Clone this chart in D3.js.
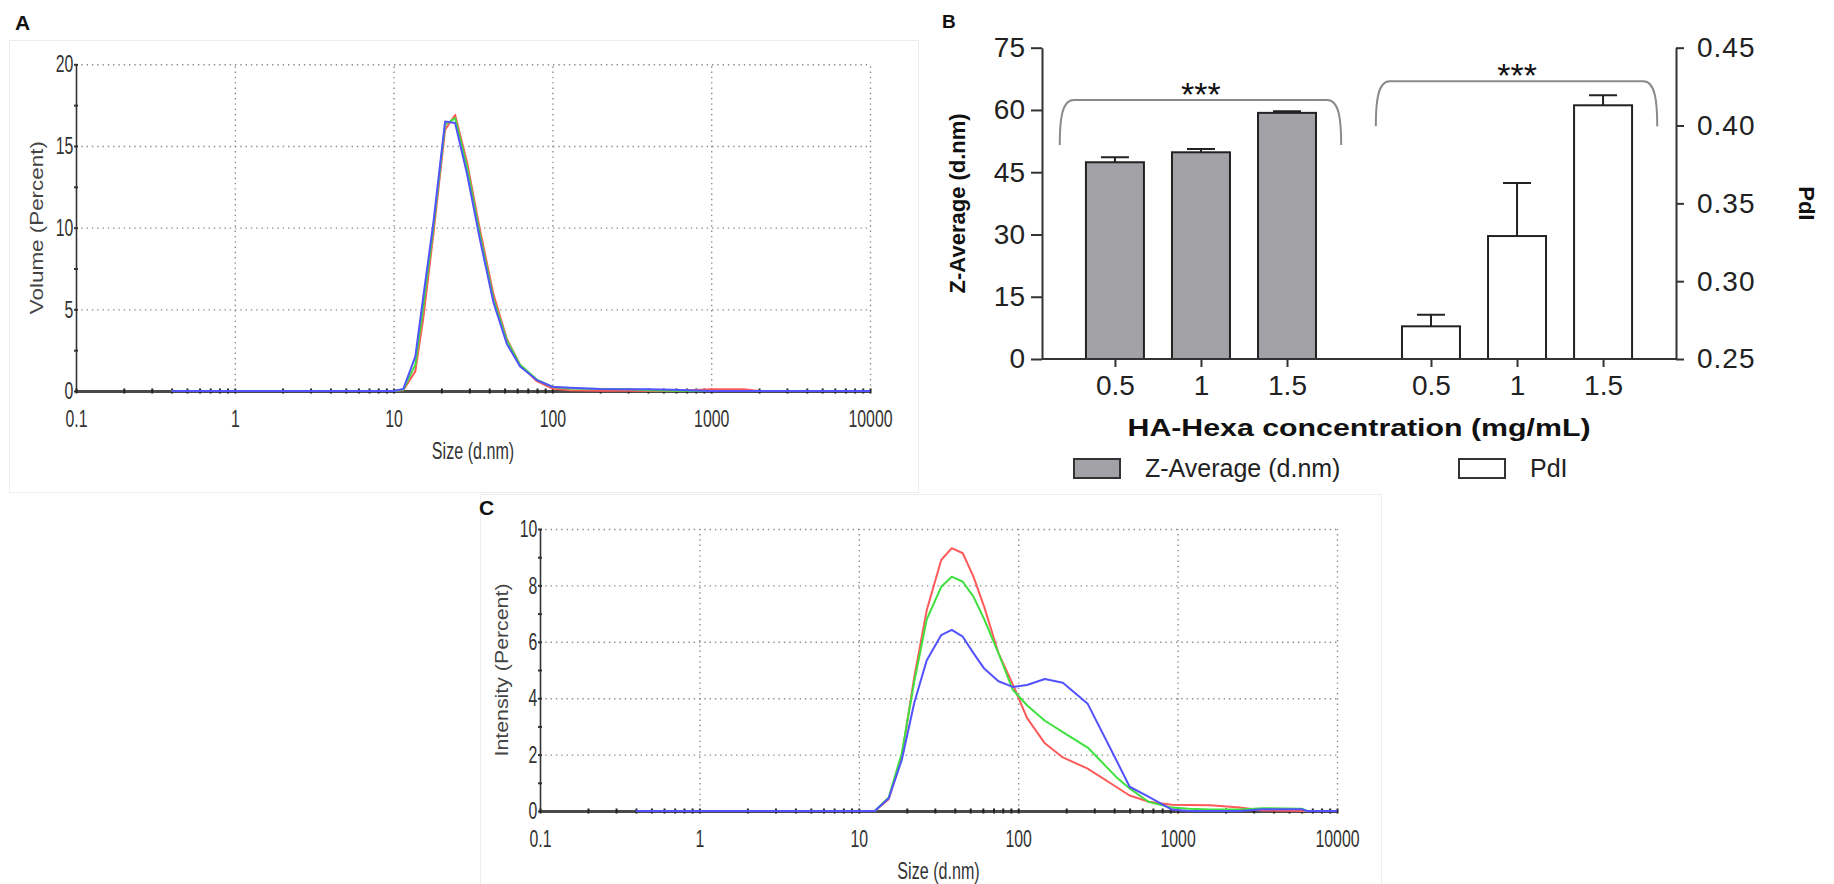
<!DOCTYPE html>
<html>
<head>
<meta charset="utf-8">
<title>HA-Hexa DLS</title>
<script src="https://d3js.org/d3.v7.min.js"></script>
<style>
  body { margin: 0; background: #fff; }
  svg { display: block; }
</style>
</head>
<body>
<svg></svg>
<script>
// ---- panel A : volume distribution ----
const sizeA = [0.4, 10, 11.5, 13.7, 15.4, 17.8, 21.1, 24.4, 29, 35.1, 42.6, 51.6, 62.6, 79.8, 100, 129, 200, 300, 400, 570, 1000, 1600, 2000, 10000]
const volRed   = [0, 0, 0.05, 1.2, 4.5, 9.6, 16.0, 16.9, 14.0, 9.8, 5.9, 3.2, 1.6, 0.6, 0.15, 0.05, 0.02, 0.02, 0, 0, 0.1, 0.1, 0, 0]
const volGreen = [0, 0, 0.08, 1.6, 5.2, 10.0, 16.3, 16.7, 13.7, 9.5, 5.6, 3.1, 1.6, 0.7, 0.25, 0.15, 0.12, 0.1, 0.05, 0.02, 0, 0, 0, 0]
const volBlue  = [0, 0, 0.12, 2.1, 5.8, 10.3, 16.5, 16.4, 13.3, 9.2, 5.4, 2.9, 1.5, 0.67, 0.26, 0.2, 0.12, 0.1, 0.1, 0.08, 0, 0, 0, 0]

// ---- panel C : intensity distribution ----
const sizeC = [0.4, 12.6, 15.4, 18.6, 22.3, 26.7, 32.9, 38.3, 44.9, 52.4, 61.2, 75.2, 92.4, 113.5, 147, 190.6, 273, 413, 500, 660, 920, 1175, 1600, 2460, 3400, 6000, 6500, 10000]
const intRed   = [0, 0, 0.42, 1.93, 4.76, 7.13, 8.9, 9.32, 9.14, 8.31, 7.24, 5.6, 4.5, 3.3, 2.4, 1.9, 1.5, 0.85, 0.55, 0.33, 0.22, 0.21, 0.2, 0.12, 0.02, 0, 0, 0]
const intGreen = [0, 0, 0.48, 2.05, 4.6, 6.8, 7.95, 8.31, 8.13, 7.6, 6.8, 5.6, 4.3, 3.75, 3.2, 2.8, 2.25, 1.2, 0.8, 0.32, 0.12, 0.08, 0.05, 0.05, 0.1, 0.08, 0, 0]
const intBlue  = [0, 0, 0.45, 1.81, 3.85, 5.35, 6.24, 6.42, 6.18, 5.6, 5.05, 4.6, 4.4, 4.47, 4.68, 4.55, 3.8, 1.8, 0.86, 0.5, 0.05, 0, 0, 0, 0.06, 0.06, 0, 0]

const decades = [0.1, 1, 10, 100, 1000, 10000]

// ---- panel B : Z-average and PdI ----
const groups = ["Z-Average (d.nm)", "PdI"]
const conc = ["0.5", "1", "1.5"]
const zAvg = [47.4, 49.8, 59.3]
const zAvgErr = [1.2, 0.8, 0.4]
const pdi = [0.271, 0.329, 0.413]
const pdiErr = [0.0075, 0.034, 0.0065]
const zTicks = [0, 15, 30, 45, 60, 75]
const pdiTicks = [0.25, 0.30, 0.35, 0.40, 0.45]
const sigText = ["***", "***"]
const sigLevel = [62.4, 66.9]   // bracket height, in Z-average units

const colRed = "#ff5a5a", colGreen = "#3fe03f", colBlue = "#5252ff"

const svg = d3.select("svg")
  .attr("width", 1834)
  .attr("height", 884)
  .style("font-family", "'Liberation Sans', Arial, sans-serif")

function distPanel(cfg) {
  const g = svg.append("g")
  const x = d3.scaleLog().domain([0.1, 10000]).range([cfg.x0, cfg.x1])
  const y = d3.scaleLinear().domain([0, cfg.yMax]).range([cfg.y0, cfg.y1])

  g.append("rect")
    .attr("x", cfg.frame[0]).attr("y", cfg.frame[1])
    .attr("width", cfg.frame[2]).attr("height", cfg.frame[3])
    .attr("fill", "none").attr("stroke", "#ededed")

  // dotted grid
  g.append("g").attr("transform", `translate(0,${cfg.y0})`)
    .call(d3.axisBottom(x).tickValues(decades.slice(1)).tickSize(-(cfg.y0 - cfg.y1)).tickFormat(""))
    .call(a => a.select(".domain").remove())
    .selectAll("line").attr("stroke", "#8c8c8c").attr("stroke-width", 1.4).attr("stroke-dasharray", "1.4,3.9")
  g.append("g").attr("transform", `translate(${cfg.x0},0)`)
    .call(d3.axisLeft(y).tickValues(cfg.yTicks.slice(1)).tickSize(-(cfg.x1 - cfg.x0)).tickFormat(""))
    .call(a => a.select(".domain").remove())
    .selectAll("line").attr("stroke", "#8c8c8c").attr("stroke-width", 1.4).attr("stroke-dasharray", "1.4,3.9")

  // y axis with small ticks
  const yAx = g.append("g").attr("transform", `translate(${cfg.x0},0)`)
    .call(d3.axisLeft(y).tickValues(cfg.yMinor).tickSizeOuter(0).tickFormat(""))
  yAx.select(".domain").attr("stroke", "#333").attr("stroke-width", 1.6)
  yAx.selectAll("line").attr("x1", 2).attr("x2", -2).attr("stroke", "#333").attr("stroke-width", 2)

  g.append("g").attr("transform", `translate(${cfg.x0},0)`)
    .call(d3.axisLeft(y).tickValues(cfg.yTicks).tickSize(0).tickPadding(4))
    .call(a => a.select(".domain").remove())
    .selectAll("text").attr("font-size", 24).attr("fill", "#333")
    .attr("font-family", "'Liberation Sans', Arial, sans-serif")
    .attr("transform", "scale(0.66,1)")

  // baseline with log minor ticks
  const minor = []
  decades.slice(0, -1).forEach(d => d3.range(1, 10).forEach(k => minor.push(d * k)))
  minor.push(10000)
  const xAx = g.append("g").attr("transform", `translate(0,${cfg.y0})`)
    .call(d3.axisBottom(x).tickValues(minor).tickSizeOuter(0).tickFormat(""))
  xAx.select(".domain").attr("stroke", "#4a4a4a").attr("stroke-width", 3)
  xAx.selectAll("line").attr("y1", -2.5).attr("y2", 2.5).attr("stroke", "#222").attr("stroke-width", 2)

  g.append("g").attr("transform", `translate(0,${cfg.y0})`)
    .call(d3.axisBottom(x).tickValues(decades).tickSize(0).tickPadding(19).tickFormat(d => String(d)))
    .call(a => a.select(".domain").remove())
    .selectAll("text").attr("font-size", 24).attr("fill", "#333")
    .attr("font-family", "'Liberation Sans', Arial, sans-serif")
    .attr("transform", "scale(0.66,1)")

  // curves
  cfg.series.forEach(s => {
    const line = d3.line().x((d, i) => x(cfg.sizes[i])).y(d => y(d))
    g.append("path").datum(s.values)
      .attr("d", line)
      .attr("fill", "none")
      .attr("stroke", s.color)
      .attr("stroke-width", 2)
      .attr("stroke-linejoin", "round")
  })

  // titles
  const cx = (cfg.x0 + cfg.x1) / 2
  g.append("text")
    .attr("transform", `translate(${cx},${cfg.y0 + 68}) scale(0.7,1)`)
    .attr("text-anchor", "middle")
    .attr("font-size", 23).attr("fill", "#333")
    .text("Size (d.nm)")
  g.append("text")
    .attr("transform", `translate(${cfg.titleX},${(cfg.y0 + cfg.y1) / 2}) rotate(-90)`)
    .attr("text-anchor", "middle")
    .attr("font-size", 18).attr("fill", "#444")
    .attr("textLength", 173).attr("lengthAdjust", "spacingAndGlyphs")
    .text(cfg.yTitle)
  g.append("text")
    .attr("x", cfg.letter[0]).attr("y", cfg.letter[1])
    .attr("font-size", 21).attr("font-weight", "bold").attr("fill", "#111")
    .text(cfg.name)
}

distPanel({
  name: "A", letter: [15, 30],
  frame: [9.5, 40.5, 909, 452],
  x0: 76, x1: 870, y0: 391, y1: 64.3,
  yMax: 20, yTicks: [0, 5, 10, 15, 20], yMinor: [0, 2.5, 5, 7.5, 10, 12.5, 15, 17.5, 20],
  titleX: 43, yTitle: "Volume (Percent)",
  sizes: sizeA,
  series: [
    { color: colRed, values: volRed },
    { color: colGreen, values: volGreen },
    { color: colBlue, values: volBlue }
  ]
})

distPanel({
  name: "C", letter: [479, 515],
  frame: [480.5, 494.5, 901, 400],
  x0: 540, x1: 1337, y0: 811, y1: 529,
  yMax: 10, yTicks: [0, 2, 4, 6, 8, 10], yMinor: d3.range(0, 11),
  titleX: 508, yTitle: "Intensity (Percent)",
  sizes: sizeC,
  series: [
    { color: colRed, values: intRed },
    { color: colGreen, values: intGreen },
    { color: colBlue, values: intBlue }
  ]
})

// ---------------- panel B ----------------
const gB = svg.append("g")
const bx0 = 1042, bx1 = 1676, by0 = 359, by1 = 47.7
const yL = d3.scaleLinear().domain([0, 75]).range([by0, by1])
const yR = d3.scaleLinear().domain([0.25, 0.45]).range([by0, by1])
const outer = d3.scaleBand().domain(groups).range([bx0, bx1]).paddingInner(0.1).paddingOuter(0.053)
const inner = d3.scaleBand().domain(conc).range([0, outer.bandwidth()]).paddingInner(0.326).paddingOuter(0.316)

const barData = []
conc.forEach((c, i) => barData.push({ g: groups[0], c, v: zAvg[i], e: zAvgErr[i], y: yL, fill: "#a2a2a6" }))
conc.forEach((c, i) => barData.push({ g: groups[1], c, v: pdi[i], e: pdiErr[i], y: yR, fill: "#fff" }))

const cxB = d => outer(d.g) + inner(d.c) + inner.bandwidth() / 2

// error bars first, bars on top
gB.selectAll(".err").data(barData).enter().append("path")
  .attr("d", d => `M${cxB(d)},${d.y(d.v)}V${d.y(d.v + d.e)}M${cxB(d) - 14},${d.y(d.v + d.e)}H${cxB(d) + 14}`)
  .attr("stroke", "#222").attr("stroke-width", 2).attr("fill", "none")

gB.selectAll(".bar").data(barData).enter().append("rect")
  .attr("x", d => outer(d.g) + inner(d.c))
  .attr("y", d => d.y(d.v))
  .attr("width", inner.bandwidth())
  .attr("height", d => by0 - d.y(d.v))
  .attr("fill", d => d.fill)
  .attr("stroke", "#222").attr("stroke-width", 2)

// axes
const fontB = "'Liberation Sans', Arial, sans-serif"
const axL = gB.append("g").attr("transform", `translate(${bx0},0)`)
  .call(d3.axisLeft(yL).tickValues(zTicks).tickSizeInner(11).tickSizeOuter(0).tickPadding(6))
axL.selectAll("text").attr("font-size", 28).attr("font-family", fontB).attr("fill", "#222")
axL.selectAll("line, path").attr("stroke", "#333").attr("stroke-width", 2)

const axR = gB.append("g").attr("transform", `translate(${bx1},0)`)
  .call(d3.axisRight(yR).tickValues(pdiTicks).tickSizeInner(8).tickSizeOuter(0).tickPadding(13).tickFormat(d3.format(".2f")))
axR.selectAll("text").attr("font-size", 28).attr("font-family", fontB).attr("fill", "#222").attr("letter-spacing", 1)
axR.selectAll("line, path").attr("stroke", "#333").attr("stroke-width", 2)

const xPos = d3.scaleOrdinal().domain(d3.range(6)).range(barData.map(cxB))
const axX = gB.append("g").attr("transform", `translate(0,${by0})`)
  .call(d3.axisBottom(xPos).tickValues(d3.range(6)).tickSizeInner(8).tickSizeOuter(0).tickPadding(8)
    .tickFormat(i => barData[i].c))
axX.select(".domain").attr("d", `M${bx0},0H${bx1}`)
axX.selectAll("text").attr("font-size", 28).attr("font-family", fontB).attr("fill", "#222")
axX.selectAll("line, path").attr("stroke", "#333").attr("stroke-width", 2)

// significance brackets
groups.forEach((grp, i) => {
  const xa = outer(grp) + 3, xb = outer(grp) + outer.bandwidth() - 4
  const yt = yL(sigLevel[i]), yb = yt + 45, r = 12
  gB.append("path")
    .attr("d", `M${xa - 2},${yb}C${xa - 2},${yt + 20} ${xa},${yt} ${xa + r},${yt}H${xb - r}C${xb},${yt} ${xb + 2},${yt + 20} ${xb + 2},${yb}`)
    .attr("fill", "none").attr("stroke", "#8a8a8a").attr("stroke-width", 2)
  gB.append("text")
    .attr("x", outer(grp) + outer.bandwidth() / 2).attr("y", yt + 6)
    .attr("text-anchor", "middle").attr("font-size", 34).attr("fill", "#111")
    .text(sigText[i])
})

// axis titles
gB.append("text")
  .attr("transform", `translate(965,${(by0 + by1) / 2}) rotate(-90)`)
  .attr("text-anchor", "middle").attr("font-size", 22).attr("font-weight", "bold").attr("fill", "#111")
  .text("Z-Average (d.nm)")
gB.append("text")
  .attr("transform", `translate(1799,${(by0 + by1) / 2}) rotate(90)`)
  .attr("text-anchor", "middle").attr("font-size", 22).attr("font-weight", "bold").attr("fill", "#111")
  .text("PdI")
gB.append("text")
  .attr("x", 1359).attr("y", 436)
  .attr("text-anchor", "middle").attr("font-size", 23).attr("font-weight", "bold").attr("fill", "#111")
  .attr("textLength", 463).attr("lengthAdjust", "spacingAndGlyphs")
  .text("HA-Hexa concentration (mg/mL)")
gB.append("text")
  .attr("x", 942).attr("y", 28)
  .attr("font-size", 19).attr("font-weight", "bold").attr("fill", "#111")
  .text("B")

// legend
const legX = [1074, 1459]
groups.forEach((grp, i) => {
  gB.append("rect")
    .attr("x", legX[i]).attr("y", 459).attr("width", 46).attr("height", 19)
    .attr("fill", i === 0 ? "#a2a2a6" : "#fff").attr("stroke", "#333").attr("stroke-width", 2)
  gB.append("text")
    .attr("x", legX[i] + 71).attr("y", 477)
    .attr("font-size", 25).attr("fill", "#222")
    .text(grp)
})
</script>
</body>
</html>
